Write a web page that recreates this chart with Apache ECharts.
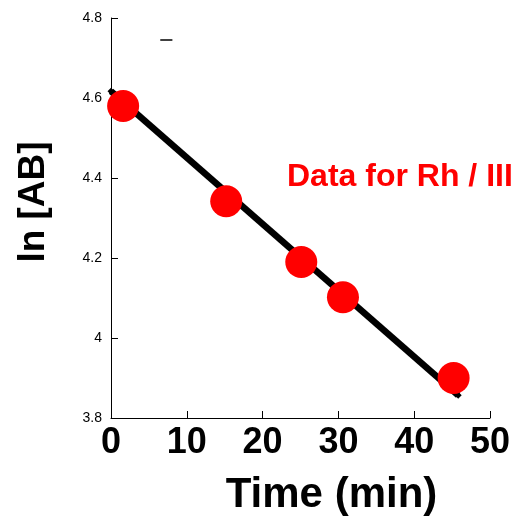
<!DOCTYPE html>
<html><head><meta charset="utf-8">
<script src="https://cdn.jsdelivr.net/npm/echarts@6/dist/echarts.min.js"></script>
<style>html,body{margin:0;padding:0;background:#fff}#c{width:526px;height:521px}</style>
</head><body><div id="c"></div>
<script>
const timeMin = [1.6, 15.2, 25.1, 30.6, 45.2];
const lnAB = [4.58, 4.342, 4.19, 4.102, 3.90];
const fitX = [0, 45.8];
const fitY = [4.617, 3.857];
const dashX = [6.5, 8.1];
const dashY = [4.745, 4.745];

const chart = echarts.init(document.getElementById('c'));
chart.setOption({
  animation: false,
  grid: {left: 111, right: 36, top: 18, bottom: 103, outerBoundsMode: 'none', containLabel: false},
  xAxis: {
    type: 'value', min: 0, max: 50, interval: 10,
    name: 'Time (min)', nameLocation: 'middle', nameGap: 56,
    nameTextStyle: {fontFamily: 'Liberation Sans', fontWeight: 'bold', fontSize: 42, color: '#000',
      padding: [0, 0, 0, 62]},
    axisLine: {lineStyle: {color: '#000', width: 1}},
    axisTick: {inside: true, length: 7, lineStyle: {color: '#000'}},
    axisLabel: {fontFamily: 'Liberation Sans', fontWeight: 'bold', fontSize: 36, color: '#000', margin: 7},
    splitLine: {show: false}
  },
  yAxis: {
    type: 'value', min: 3.8, max: 4.8, interval: 0.2,
    name: 'ln [AB]', nameLocation: 'middle', nameGap: 59,
    nameTextStyle: {fontFamily: 'Liberation Sans', fontWeight: 'bold', fontSize: 37, color: '#000',
      padding: [0, 0, 0, 32]},
    axisLine: {lineStyle: {color: '#000', width: 1}},
    axisTick: {inside: true, length: 7, lineStyle: {color: '#000'}},
    axisLabel: {fontFamily: 'Liberation Sans', fontSize: 14, color: '#000', margin: 9,
      formatter: v => String(Math.round(v * 10) / 10)},
    splitLine: {show: false}
  },
  series: [
    {type: 'line', data: fitX.map((x, i) => [x, fitY[i]]), symbol: 'diamond', symbolSize: 7,
     itemStyle: {color: '#000'}, lineStyle: {color: '#000', width: 6.5}, z: 2},
    {type: 'line', data: dashX.map((x, i) => [x, dashY[i]]), symbol: 'none',
     lineStyle: {color: '#000', width: 1.5}, z: 2},
    {type: 'scatter', data: timeMin.map((x, i) => [x, lnAB[i]]), symbol: 'circle', symbolSize: 32,
     itemStyle: {color: '#ff0000', opacity: 1}, z: 3}
  ],
  graphic: [{
    type: 'text', left: 287, top: 161,
    style: {text: 'Data for Rh / III', fill: '#ff0000', font: 'bold 32px "Liberation Sans"'}
  }]
});
</script></body></html>
